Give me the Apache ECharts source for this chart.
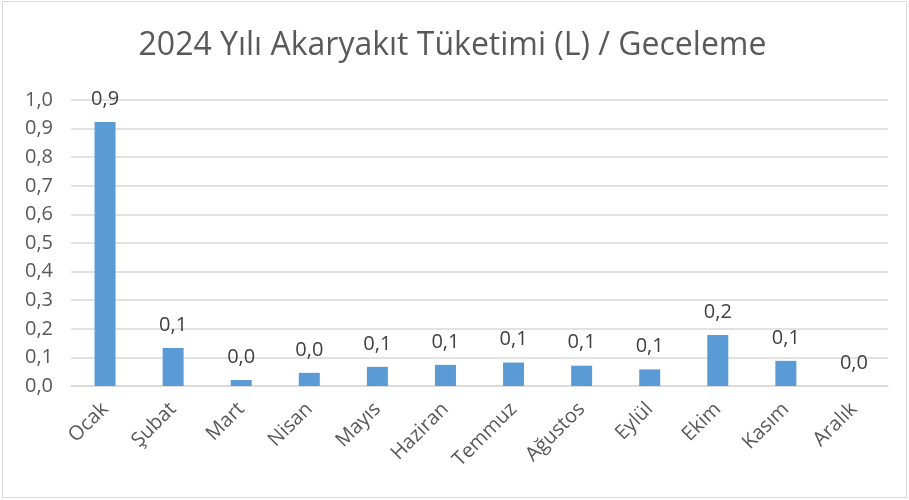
<!DOCTYPE html>
<html>
<head>
<meta charset="utf-8">
<script src="https://cdn.jsdelivr.net/npm/echarts@6/dist/echarts.min.js"></script>
<style>
  html, body { margin: 0; padding: 0; background: #fff; }
  #frame { position: absolute; left: 2px; top: 1px; width: 903px; height: 495px; border: 1px solid #d9d9d9; }
  #main { position: absolute; left: -2px; top: 0px; width: 909px; height: 500px; }
</style>
</head>
<body>
<div id="frame"></div>
<div id="main"></div>
<script>
// aylar
var months = ['Ocak', 'Şubat', 'Mart', 'Nisan', 'Mayıs', 'Haziran', 'Temmuz', 'Ağustos', 'Eylül', 'Ekim', 'Kasım', 'Aralık'];
// geceleme başına litre
var fuelPerNight = [0.923, 0.133, 0.021, 0.046, 0.067, 0.074, 0.082, 0.071, 0.058, 0.178, 0.088, 0];

function comma(v) {
    return Number(v).toFixed(1).replace('.', ',');
}

var myChart = echarts.init(document.getElementById('main'));

var option = {
    animation: false,
    title: {
        text: '2024 Yılı Akaryakıt Tüketimi (L) / Geceleme',
        left: 'center',
        top: 25,
        textStyle: {
            fontFamily: 'Open Sans',
            fontSize: 32,
            fontWeight: 'normal',
            color: '#595959'
        }
    },
    grid: {
        left: 73,
        right: 19,
        top: 100,
        bottom: 114
    },
    xAxis: {
        type: 'category',
        data: months,
        axisTick: { show: false },
        axisLine: { lineStyle: { color: '#d9d9d9', width: 1.5 } },
        axisLabel: {
            rotate: 45,
            margin: 20,
            fontFamily: 'Open Sans',
            fontSize: 20,
            color: '#595959'
        }
    },
    yAxis: {
        type: 'value',
        min: 0,
        max: 1,
        interval: 0.1,
        axisLine: { show: false },
        axisTick: { show: false },
        splitLine: { lineStyle: { color: '#d9d9d9', width: 1.5 } },
        axisLabel: {
            margin: 18,
            fontFamily: 'Open Sans',
            fontSize: 20,
            color: '#595959',
            formatter: comma
        }
    },
    series: [
        {
            type: 'bar',
            data: fuelPerNight,
            barWidth: 21,
            itemStyle: { color: '#5b9bd5' },
            label: {
                show: true,
                position: 'top',
                distance: 13,
                fontFamily: 'Open Sans',
                fontSize: 20,
                color: '#404040',
                formatter: function (p) { return comma(p.value); }
            }
        }
    ]
};
myChart.setOption(option);
</script>
</body>
</html>
